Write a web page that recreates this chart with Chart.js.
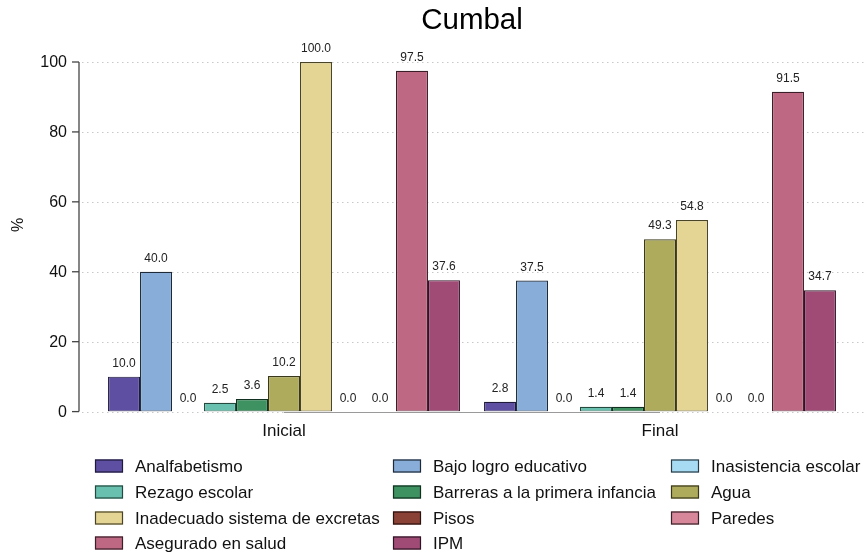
<!DOCTYPE html>
<html>
<head>
<meta charset="utf-8">
<script src="https://cdn.jsdelivr.net/npm/chart.js@4/dist/chart.umd.min.js"></script>
<style>
  html, body { margin: 0; padding: 0; background: #fff; }
  #wrap { width: 864px; height: 552px; position: relative; }
</style>
</head>
<body>
<div id="wrap"><canvas id="cumbalChart"></canvas></div>
<script>
const categories = ['Inicial', 'Final'];
const seriesNames = [
  'Analfabetismo', 'Bajo logro educativo', 'Inasistencia escolar',
  'Rezago escolar', 'Barreras a la primera infancia', 'Agua',
  'Inadecuado sistema de excretas', 'Pisos', 'Paredes',
  'Asegurado en salud', 'IPM'
];
const inicialValues = [10.0, 40.0, 0.0, 2.5, 3.6, 10.2, 100.0, 0.0, 0.0, 97.5, 37.6];
const finalValues = [2.8, 37.5, 0.0, 1.4, 1.4, 49.3, 54.8, 0.0, 0.0, 91.5, 34.7];
const yTicks = [0, 20, 40, 60, 80, 100];

const fillColors = [
  '#5E4FA2', '#88ADD9', '#A6DBF3', '#69C0AE', '#3E9160', '#AEAB5C',
  '#E5D594', '#8A4236', '#D8879A', '#BE6883', '#A04B76'
];
const borderColors = [
  '#1f1a3a', '#1e2a38', '#2a3a44', '#244a40', '#123020', '#3a381a',
  '#4a4426', '#2a120e', '#3a2228', '#3a1e28', '#2e1424'
];

const FONT = '"Liberation Sans", Arial, sans-serif';

const datasets = seriesNames.map((name, i) => ({
  label: name,
  data: [inicialValues[i], finalValues[i]],
  backgroundColor: fillColors[i],
  borderColor: borderColors[i],
  borderWidth: 1.2,
  borderSkipped: false,
  categoryPercentage: 0.936,
  barPercentage: 1
}));

// y axis, grid lines, title, value labels and legend
const decorations = {
  id: 'decorations',
  beforeDatasetsDraw(chart) {
    const ctx = chart.ctx;
    const y = chart.scales.y;
    const x = chart.scales.x;
    ctx.save();
    // dotted grid
    ctx.strokeStyle = '#c8c8c8';
    ctx.lineWidth = 1;
    ctx.setLineDash([1.5, 3.5]);
    yTicks.forEach(v => {
      const py = Math.round(y.getPixelForValue(v)) + 0.5;
      ctx.beginPath();
      ctx.moveTo(82, py);
      ctx.lineTo(864, py);
      ctx.stroke();
    });
    ctx.setLineDash([]);
    // x axis line between the category ticks
    const py0 = Math.round(y.getPixelForValue(0)) + 0.5;
    ctx.strokeStyle = '#9a9a9a';
    ctx.beginPath();
    ctx.moveTo(x.getPixelForValue(0), py0);
    ctx.lineTo(x.getPixelForValue(1), py0);
    ctx.stroke();
    // y axis
    ctx.strokeStyle = '#444';
    ctx.lineWidth = 1.3;
    ctx.beginPath();
    ctx.moveTo(79, y.getPixelForValue(yTicks[yTicks.length - 1]));
    ctx.lineTo(79, y.getPixelForValue(yTicks[0]));
    ctx.stroke();
    ctx.fillStyle = '#111';
    ctx.font = '16px ' + FONT;
    ctx.textAlign = 'right';
    ctx.textBaseline = 'middle';
    yTicks.forEach(v => {
      const py = y.getPixelForValue(v);
      ctx.beginPath();
      ctx.moveTo(72, py);
      ctx.lineTo(79, py);
      ctx.stroke();
      ctx.fillText(String(v), 67, py + 1);
    });
    // y title
    ctx.save();
    ctx.translate(19, 225);
    ctx.rotate(-Math.PI / 2);
    ctx.textAlign = 'center';
    ctx.font = '16px ' + FONT;
    ctx.fillText('%', 0, 0);
    ctx.restore();
    // title
    ctx.font = '29.5px ' + FONT;
    ctx.textAlign = 'center';
    ctx.fillStyle = '#000';
    ctx.fillText('Cumbal', 472, 21);
    ctx.restore();
  },
  afterDatasetsDraw(chart) {
    const ctx = chart.ctx;
    ctx.save();
    ctx.font = '12px ' + FONT;
    ctx.fillStyle = '#222';
    ctx.textAlign = 'center';
    ctx.textBaseline = 'alphabetic';
    chart.data.datasets.forEach((ds, i) => {
      chart.getDatasetMeta(i).data.forEach((bar, j) => {
        ctx.fillText(ds.data[j].toFixed(1), bar.x, bar.y - 10);
      });
    });
    // legend, 3 columns
    const colX = [95, 393, 671];
    const rowY = [466, 492, 518, 543];
    ctx.font = '17px ' + FONT;
    ctx.textAlign = 'left';
    ctx.textBaseline = 'middle';
    chart.data.datasets.forEach((ds, i) => {
      const cx = colX[i % 3];
      const cy = rowY[Math.floor(i / 3)];
      ctx.fillStyle = ds.backgroundColor;
      ctx.fillRect(cx, cy - 6.5, 28, 13);
      ctx.strokeStyle = ds.borderColor;
      ctx.lineWidth = 1.2;
      ctx.strokeRect(cx + 0.5, cy - 6, 27, 12);
      ctx.fillStyle = '#111';
      ctx.fillText(ds.label, cx + 40, cy + 1);
    });
    ctx.restore();
  }
};

new Chart(document.getElementById('cumbalChart'), {
  type: 'bar',
  data: { labels: categories, datasets: datasets },
  options: {
    responsive: true,
    maintainAspectRatio: false,
    animation: false,
    layout: { padding: { left: 96, right: 16, top: 62, bottom: 100 } },
    plugins: {
      legend: { display: false },
      title: { display: false },
      tooltip: { enabled: false }
    },
    scales: {
      x: {
        grid: { display: false, drawTicks: false },
        border: { display: false },
        ticks: { color: '#111', font: { family: FONT, size: 17 }, padding: 10 }
      },
      y: {
        display: false,
        min: 0,
        max: 100,
        afterBuildTicks: scale => { scale.ticks = yTicks.map(v => ({ value: v })); }
      }
    }
  },
  plugins: [decorations]
});
</script>
</body>
</html>
